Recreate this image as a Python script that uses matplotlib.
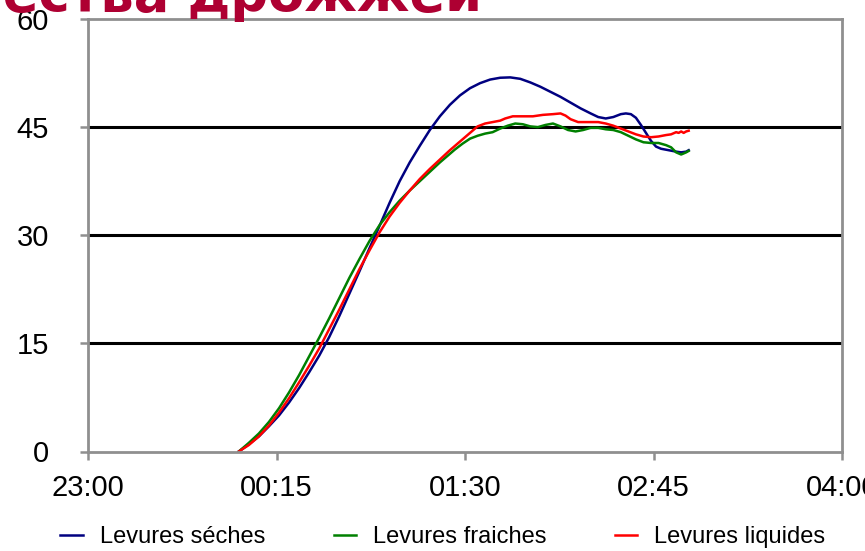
import matplotlib
matplotlib.use("Agg")
import matplotlib.pyplot as plt

# time in minutes after 23:00
tick_minutes = [0, 75, 150, 225, 300]
tick_labels = ["23:00", "00:15", "01:30", "02:45", "04:00"]

t_seches = [60, 64, 68, 72, 76, 80, 84, 88, 92, 96, 100, 104, 108, 112, 116, 120, 124, 128, 132, 136,
            140, 144, 148, 152, 156, 160, 164, 168, 172, 176, 180, 184, 188, 192, 196, 200, 203, 206,
            209, 212, 214, 216, 218, 220, 222, 224, 226, 228, 231, 234, 236, 238, 239]
v_seches = [0, 1.0, 2.1, 3.5, 5.0, 6.8, 8.8, 11.0, 13.3, 15.9, 18.8, 21.9, 25.0, 28.2, 31.3, 34.5, 37.5, 40.1, 42.4, 44.6,
            46.5, 48.1, 49.4, 50.4, 51.1, 51.6, 51.85, 51.9, 51.7, 51.2, 50.6, 49.9, 49.2, 48.4, 47.6, 46.9, 46.4, 46.2,
            46.4, 46.8, 46.9, 46.8, 46.3, 45.3, 44.2, 43.1, 42.3, 42.0, 41.8, 41.6, 41.5, 41.6, 41.8]

t_fraiches = [60, 64, 68, 72, 76, 80, 84, 88, 92, 96, 100, 104, 108, 112, 116, 120, 124, 128, 132, 136,
              140, 143, 146, 149, 152, 155, 158, 161, 164, 167, 170, 173, 176, 179, 182, 185, 188, 191,
              194, 197, 200, 203, 206, 209, 212, 215, 218, 221, 224, 227, 230, 232, 234, 236, 238, 239]
v_fraiches = [0, 1.2, 2.5, 4.1, 6.0, 8.2, 10.6, 13.2, 15.8, 18.5, 21.3, 24.1, 26.7, 29.2, 31.4, 33.2, 34.8, 36.2, 37.5, 38.8,
              40.1, 41.0, 41.9, 42.7, 43.4, 43.8, 44.1, 44.3, 44.8, 45.2, 45.5, 45.4, 45.1, 45.0, 45.3, 45.5, 45.1, 44.6,
              44.4, 44.6, 44.9, 44.9, 44.7, 44.6, 44.3, 43.8, 43.3, 42.9, 42.8, 42.8, 42.5, 42.2, 41.5, 41.2, 41.5, 41.7]

t_liquides = [60, 64, 68, 72, 76, 80, 84, 88, 92, 96, 100, 104, 108, 112, 116, 120, 124, 128, 132, 136,
              140, 144, 148, 152, 155, 158, 161, 164, 166, 169, 173, 177, 181, 185, 188, 190, 192, 195,
              199, 203, 206, 209, 212, 215, 218, 221, 224, 227, 230, 232, 234, 235, 236, 237, 238, 239]
v_liquides = [0, 0.9, 2.1, 3.6, 5.4, 7.4, 9.6, 11.9, 14.3, 17.0, 19.7, 22.5, 25.3, 27.9, 30.4, 32.6, 34.5, 36.2, 37.8, 39.2,
              40.5, 41.8, 43.0, 44.2, 45.1, 45.5, 45.7, 45.9, 46.2, 46.5, 46.5, 46.5, 46.7, 46.8, 46.9, 46.6, 46.1, 45.7,
              45.7, 45.7, 45.5, 45.2, 44.8, 44.4, 44.0, 43.7, 43.6, 43.7, 43.9, 44.0, 44.3, 44.2, 44.4, 44.2, 44.4, 44.5]

plt.rcParams['font.family'] = ['Liberation Sans', 'DejaVu Sans']

fig = plt.figure(figsize=(8.65, 5.51), dpi=100)
ax = fig.add_axes([88/865, 1 - 451.5/551, 754/865, 432.5/551])

ax.plot(t_seches, v_seches, color='#000080', lw=1.8, label='Levures séches')
ax.plot(t_fraiches, v_fraiches, color='#008000', lw=1.8, label='Levures fraiches')
ax.plot(t_liquides, v_liquides, color='#ff0000', lw=1.8, label='Levures liquides')

for y in [15, 30, 45]:
    ax.axhline(y, color='black', lw=2.2, zorder=0)

ax.set_xlim(0, 300)
ax.set_ylim(0, 60)
ax.set_xticks(tick_minutes)
ax.set_xticklabels(tick_labels)
ax.set_yticks([0, 15, 30, 45, 60])
ax.tick_params(axis='both', labelsize=21, color='#8f8f8f', width=1.8, length=6)
ax.tick_params(axis='x', pad=10)
ax.tick_params(axis='y', pad=22)
for s in ax.spines.values():
    s.set_color('#8f8f8f')
    s.set_linewidth(2)

ax.legend(loc='center', bbox_to_anchor=(443 / 865, 14 / 551), bbox_transform=fig.transFigure,
          ncol=3, frameon=False, fontsize=17, handlelength=0.95, columnspacing=2.9, handletextpad=0.72,
          borderpad=0, borderaxespad=0)

fig.text(482/865, 1 - 11/551, "количества дрожжей", ha='right', va='baseline',
         fontsize=38, fontweight='bold', color='#ae0032', family=['DejaVu Sans'])

fig.savefig("out.png", dpi=100)
